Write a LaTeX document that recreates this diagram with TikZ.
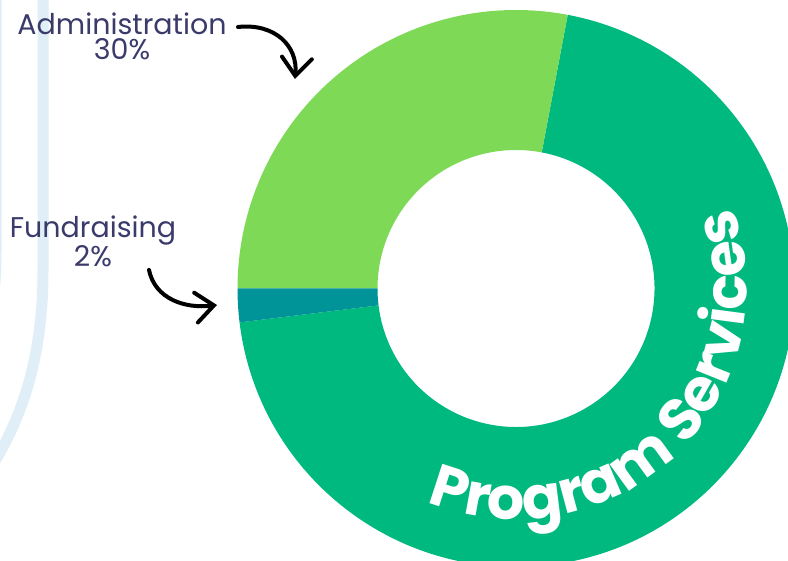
\documentclass[tikz,border=0pt]{standalone}
\usepackage{fontspec}
\setmainfont{Poppins}
\usetikzlibrary{arrows.meta,decorations.text}
\definecolor{admin}{HTML}{7ED957}
\definecolor{prog}{HTML}{00B97F}
\definecolor{fund}{HTML}{009397}
\definecolor{labelc}{HTML}{3A3A6B}
\definecolor{band}{HTML}{E0EEF8}
\tikzset{
  lbl/.style={text=labelc, align=center, inner sep=0pt, font=\fontsize{28.5}{25}\selectfont},
  pointer/.style={draw=black, line width=4pt, line cap=round, -{Straight Barb[length=18pt,width=30pt,line cap=round]}},
  bandline/.style={draw=band, line width=11pt}
}
\begin{document}
\begin{tikzpicture}[x=1pt,y=1pt]
\useasboundingbox (0,0) rectangle (788,561);
\clip (0,0) rectangle (788,561);
\fill[white] (0,0) rectangle (788,561);
% background decorative bands
\draw[bandline] (43,570) -- (43,290) .. controls (43,210) and (25,150) .. (-5,100);
\draw[bandline] (-4,570) -- (-4,310) .. controls (-4,280) and (-6,260) .. (-12,240);
% donut
\begin{scope}[shift={(516,272.5)}]
  \fill[prog] (-173:278.5pt) arc[start angle=-173, end angle=79.3, radius=278.5pt]
     -- (79.3:138.5pt) arc[start angle=79.3, end angle=-173, radius=138.5pt] -- cycle;
  \fill[admin] (79.3:278.5pt) arc[start angle=79.3, end angle=180, radius=278.5pt]
     -- (180:138.5pt) arc[start angle=180, end angle=79.3, radius=138.5pt] -- cycle;
  \fill[fund] (180:278.5pt) arc[start angle=180, end angle=187, radius=278.5pt]
     -- (187:138.5pt) arc[start angle=187, end angle=180, radius=138.5pt] -- cycle;
  \path[decorate, decoration={text along path, text align=center,
      text={|\color{white}\fontsize{59}{59}\selectfont\bfseries|Program Services}}]
    (-130:231pt) arc[start angle=-130, end angle=38, radius=231pt];
\end{scope}
% labels
\node[lbl, anchor=base] (adm) at (122,501) {Administration\\30\%};
\node[lbl, anchor=base] (fnd) at (93,294) {Fundraising\\2\%};
% arrows
\coordinate (admstart) at (238,534);
\coordinate (admtip) at (295,482);
\coordinate (fndstart) at (149,291);
\coordinate (fndtip) at (217,256);
\draw[pointer] (admstart) .. controls (275,538) and (298,515) .. (admtip);
\draw[pointer] (fndstart) .. controls (155,262) and (185,252) .. (fndtip);
\end{tikzpicture}
\end{document}
